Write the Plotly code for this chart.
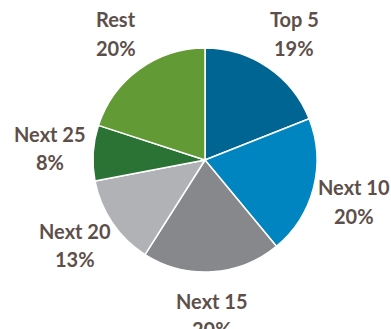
import math
import plotly.graph_objects as go

# Share of total by group
labels = ["Top 5", "Next 10", "Next 15", "Next 20", "Next 25", "Rest"]
shares = [19, 20, 20, 13, 8, 20]
colors = ["#006593", "#0085c1", "#87888c", "#b1b2b5", "#2b7235", "#629a35"]

W, H = 391, 329
ML, MR, MT, MB = 19, 0, 48, 57
text_color = "#5e4f4a"
font_family = "Lato"
font_size = 20

fig = go.Figure(
    go.Pie(
        labels=labels,
        values=shares,
        sort=False,
        direction="clockwise",
        rotation=0,
        marker=dict(colors=colors, line=dict(color="white", width=1.5)),
        textinfo="none",
        hoverinfo="label+percent",
        showlegend=False,
    )
)

# Place each two-line label outside the pie along its slice's mid-angle
pw, ph = W - ML - MR, H - MT - MB
radius = min(pw, ph) / 2
label_r = radius + 43
total = sum(shares)
annotations = []
cum = 0
for lab, v in zip(labels, shares):
    mid = (cum + v / 2) / total * 2 * math.pi + math.radians(1)
    cum += v
    dx = math.sin(mid) * label_r
    dy = -math.cos(mid) * label_r
    cx = pw / 2 + dx
    cy = ph / 2 + dy
    for text, shift in ((lab, -14), (f"{round(v / total * 100)}%", 14.5)):
        annotations.append(
            dict(
                x=cx / pw,
                y=1 - (cy + shift) / ph,
                xref="paper",
                yref="paper",
                text=text,
                showarrow=False,
                xanchor="center",
                yanchor="middle",
                font=dict(family=font_family, size=font_size, color=text_color, weight="bold"),
            )
        )

fig.update_layout(
    width=W,
    height=H,
    margin=dict(l=ML, r=MR, t=MT, b=MB),
    paper_bgcolor="white",
    plot_bgcolor="white",
    annotations=annotations,
)

fig.write_html("out.html")
